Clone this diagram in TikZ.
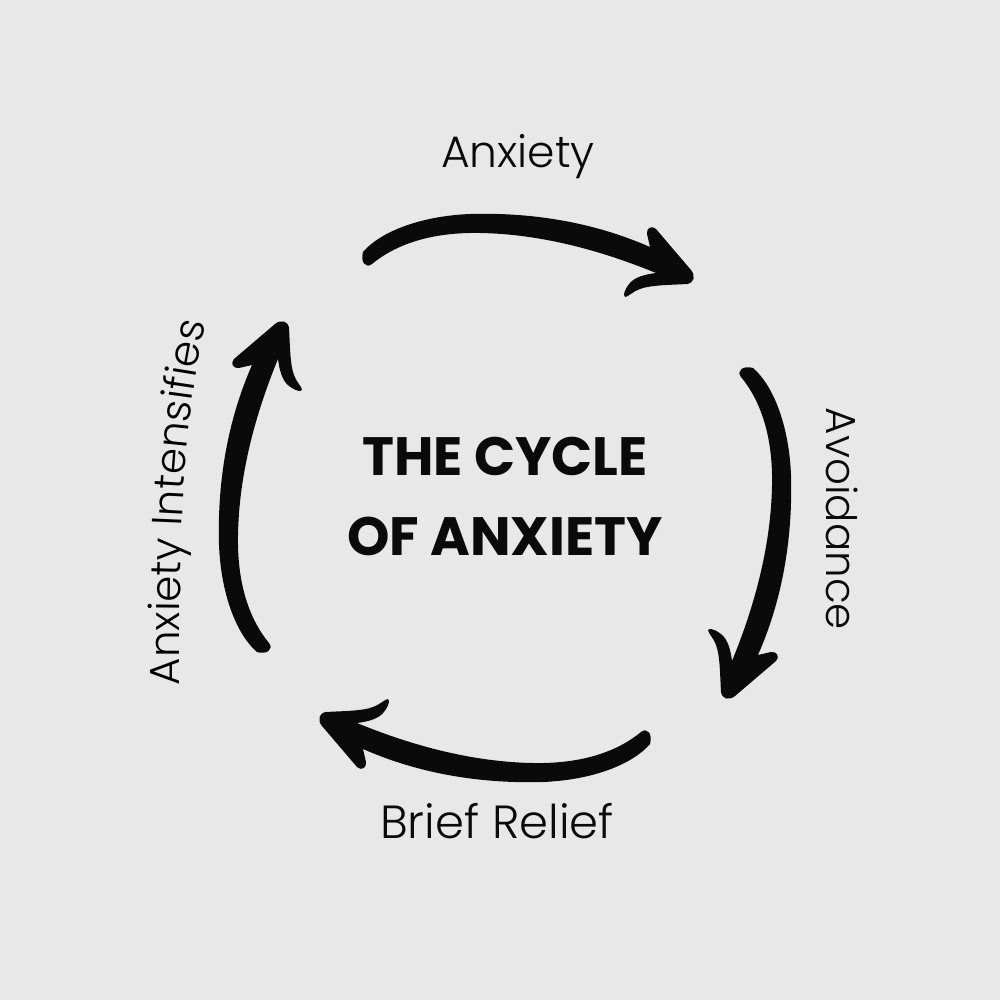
\documentclass[tikz,border=0pt]{standalone}
\usepackage{fontspec}
\newfontfamily\lblfont{Poppins Light}
\newfontfamily\titlefont{Poppins}
\usetikzlibrary{decorations.text}
\definecolor{bg}{HTML}{E8E8E8}
\definecolor{ink}{HTML}{0A0A0A}
\tikzset{
  lbl/.style={font=\lblfont\fontsize{44}{52}\selectfont, text=ink, inner sep=0pt},
  ttl/.style={font=\titlefont\bfseries\fontsize{54}{60}\selectfont, text=ink, inner sep=0pt},
  cyclearrow/.style={fill=ink, draw=none}
}
\def\cyclearrowshape{(363,252) .. controls (380,232) and (420,216) .. (470,214)
  .. controls (540,212) and (600,225) .. (650,247)
  -- (647,234) .. controls (646,228) and (652,225) .. (656,229)
  -- (691,270) .. controls (696,276) and (694,283) .. (687,284)
  .. controls (670,285) and (650,285) .. (640,289)
  .. controls (632,292) and (628,297) .. (625,297)
  .. controls (622,296) and (626,286) .. (632,281)
  .. controls (638,276) and (648,274) .. (656,273)
  .. controls (600,250) and (540,234) .. (480,233)
  .. controls (430,232) and (395,245) .. (372,264)
  .. controls (366,269) and (360,262) .. (363,252) -- cycle}
\begin{document}
\begin{tikzpicture}[x=1pt,y=-1pt]
\fill[bg] (0,0) rectangle (1000,1000);
\useasboundingbox (0,0) rectangle (1000,1000);
% arrows
\fill[cyclearrow] \cyclearrowshape;
\begin{scope}[shift={(5,5)}, rotate around={-90:(500,500)}]
  \fill[cyclearrow] \cyclearrowshape;
\end{scope}
\begin{scope}[shift={(13,-4)}, rotate around={-180:(500,500)}]
  \fill[cyclearrow] \cyclearrowshape;
\end{scope}
\begin{scope}[shift={(5,15)}, rotate around={-270:(500,500)}]
  \fill[cyclearrow] \cyclearrowshape;
\end{scope}
% labels
\node[lbl, anchor=base] (anx) at (518,168) {Anxiety};
\node[lbl, anchor=base, rotate=-90, font=\lblfont\fontsize{42}{50}\selectfont] (avoid) at (826,519) {Avoidance};
\node[lbl, anchor=base, font=\lblfont\fontsize{46.5}{54}\selectfont] (relief) at (497,838) {Brief Relief};
\path[decorate, decoration={text along path, text align=center,
  text={|\lblfont\fontsize{42}{50}\selectfont|Anxiety Intensifies}}]
  (180,690) .. controls (179,545) and (182,425) .. (207,318);
% title
\node[ttl, anchor=base] (t1) at (505,475) {THE CYCLE};
\node[ttl, anchor=base] (t2) at (505,555) {OF ANXIETY};
\end{tikzpicture}
\end{document}
